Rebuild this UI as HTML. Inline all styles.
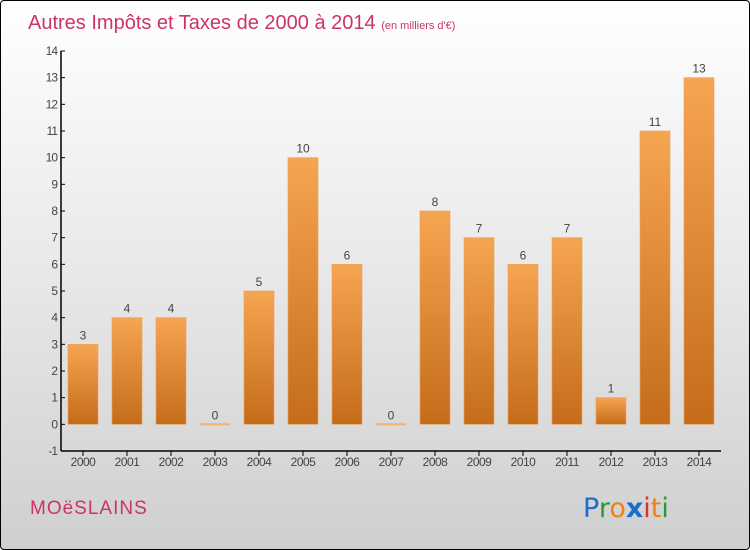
<!DOCTYPE html>
<html><head><meta charset="utf-8"><style>
html,body{margin:0;padding:0;}
body{width:750px;height:550px;overflow:hidden;font-family:"Liberation Sans",sans-serif;}
#frame{position:absolute;left:0;top:0;width:748px;height:548px;border:1px solid #000;border-radius:4px;background:linear-gradient(#ffffff 0%,#e8e8e8 50%,#cfcfcf 100%);}
</style></head><body>
<div id="frame">
<svg id="chart" width="750" height="550" style="position:absolute;left:-1px;top:-1px">
<defs>
<linearGradient id="bg" x1="0" y1="0" x2="0" y2="1">
<stop offset="0" stop-color="#f6a550"/><stop offset="1" stop-color="#c46c1a"/>
</linearGradient>
</defs>
<text x="28" y="29" font-size="20" fill="#cc3366">Autres Impôts et Taxes de 2000 à 2014 <tspan font-size="11">(en milliers d'€)</tspan></text>
<text x="30" y="514" font-size="19" fill="#cc3366" letter-spacing="1">MOëSLAINS</text>
<g font-size="27" font-family="'DejaVu Sans',sans-serif">
<text x="583" y="517"><tspan fill="#1a6fcc">P</tspan><tspan fill="#2a9a3a">r</tspan><tspan fill="#f08010">o</tspan><tspan fill="#1a6fcc" font-weight="bold">x</tspan><tspan fill="#e03020">i</tspan><tspan fill="#f08010">t</tspan><tspan fill="#2a9a3a">i</tspan></text>
</g>
</svg>
</div>
<script>
const categories=["2000","2001","2002","2003","2004","2005","2006","2007","2008","2009","2010","2011","2012","2013","2014"];
const values=[3,4,4,0,5,10,6,0,8,7,6,7,1,11,13];
const yTicks=[-1,0,1,2,3,4,5,6,7,8,9,10,11,12,13,14];
const NS="http://www.w3.org/2000/svg";
const svg=document.getElementById('chart');
const x0=61,bw=44,yMin=-1,yMax=14,yTop=51,yBot=451;
const y=v=>yBot-(v-yMin)/(yMax-yMin)*(yBot-yTop);
const xc=i=>x0+bw*(i+0.5);
function mk(t,a){const e=document.createElementNS(NS,t);for(const k in a)e.setAttribute(k,a[k]);svg.appendChild(e);return e;}
values.forEach((v,i)=>{
  if(v>0){
    const r=mk('rect',{x:xc(i)-15,y:y(v),width:30,height:y(0)-y(v),fill:'url(#bg)',stroke:'#e8a060','stroke-width':0.6});
    
    
  } else {
    const r=mk('rect',{x:xc(i)-15,y:y(0)-1,width:30,height:2,fill:'#f0b070'});
    
    
  }
  const t=mk('text',{x:xc(i),y:y(v)-5,'text-anchor':'middle','font-size':12,fill:'#444'});
  t.textContent=values[i];
  
  
});
const ax=mk('line',{x1:x0,y1:yTop,x2:x0,y2:yBot,stroke:'#000','stroke-width':1.5});


const bx=mk('line',{x1:x0,y1:yBot,x2:x0+bw*15,y2:yBot,stroke:'#000','stroke-width':1.5});


yTicks.forEach(v=>{
  mk('line',{x1:x0,y1:y(v),x2:x0+4,y2:y(v),stroke:'#000'});
  const t=mk('text',{x:x0-4,y:y(v)+4,'text-anchor':'end','font-size':12,fill:'#444','letter-spacing':'-1'});
  t.textContent=v;
  
  
});
categories.forEach((c,i)=>{
  mk('line',{x1:xc(i),y1:yBot,x2:xc(i),y2:yBot+5,stroke:'#000'});
  const t=mk('text',{x:xc(i),y:yBot+15,'text-anchor':'middle','font-size':12,fill:'#444','letter-spacing':'-0.5'});
  t.textContent=c;
  
  
});
</script>
</body></html>
